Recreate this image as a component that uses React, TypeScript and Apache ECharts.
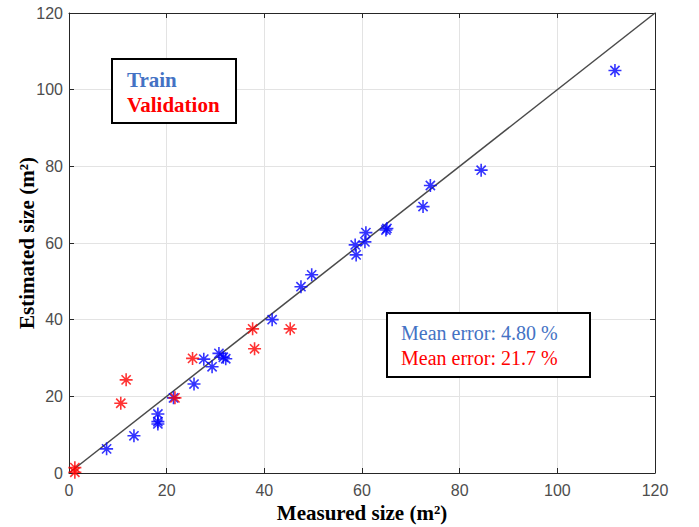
import React, { useEffect, useRef } from "react";
import * as echarts from "echarts";

const trainX = [7.7, 13.3, 18.2, 18.2, 18.2, 21.4, 25.6, 27.6, 29.3, 30.7, 31.6, 32.1, 41.6, 47.5, 49.7, 58.6, 58.8, 60.6, 60.8, 64.9, 65.1, 72.5, 74.0, 84.4, 111.8];
const trainY = [6.3, 9.7, 15.4, 13.4, 12.8, 19.6, 23.2, 29.7, 27.7, 31.2, 30.2, 29.8, 40.0, 48.6, 51.7, 59.5, 56.9, 60.3, 62.7, 63.4, 63.8, 69.5, 75.0, 79.0, 105.0];
const valX = [1.2, 1.2, 10.6, 11.7, 21.7, 25.3, 37.6, 38.0, 45.3];
const valY = [1.4, 0.2, 18.2, 24.3, 19.6, 29.9, 37.6, 32.4, 37.6];
const identityLine = [[0, 0], [120, 120]];
const axisTicks = [0, 20, 40, 60, 80, 100, 120];

const STAR = "path://M6,0L6,12M0,6L12,6M1.76,1.76L10.24,10.24M1.76,10.24L10.24,1.76";

export default function App() {
  const ref = useRef<HTMLDivElement>(null);
  useEffect(() => {
    const chart = echarts.init(ref.current!, null, { renderer: "svg" });
    const axisCommon = {
      type: "value" as const,
      min: axisTicks[0],
      max: axisTicks[axisTicks.length - 1],
      interval: 20,
      axisLine: { show: true, onZero: false, lineStyle: { color: "#262626", width: 1 } },
      axisTick: { show: true, inside: true, length: 5, lineStyle: { color: "#262626" } },
    };
    const tickLabel = { color: "#4d4d4d", fontFamily: "Liberation Sans", fontSize: 16 };
    const serif = "Liberation Serif";
    const nameStyle = { color: "#000", fontFamily: serif, fontWeight: "bold" as const, fontSize: 21, lineHeight: 21 };
    chart.setOption({
      animation: false,
      backgroundColor: "#fff",
      title: [
        {
          text: "Train",
          left: 127,
          top: 69,
          padding: 0,
          textStyle: { color: "#4472c4", fontFamily: serif, fontWeight: "bold", fontSize: 21, lineHeight: 22 },
          z: 12,
        },
        {
          text: "Validation",
          left: 127,
          top: 94,
          padding: 0,
          textStyle: { color: "#ff0000", fontFamily: serif, fontWeight: "bold", fontSize: 21, lineHeight: 22 },
          z: 12,
        },
      ],
      grid: { left: 69, top: 13, width: 586, height: 460, containLabel: false, outerBoundsMode: "none" },
      xAxis: [
        {
          ...axisCommon,
          position: "bottom",
          axisLabel: { ...tickLabel, margin: 9, lineHeight: 16 },
          splitLine: { show: true, lineStyle: { color: "#e3e3e3", width: 1 } },
          name: "Measured size (m²)",
          nameLocation: "middle",
          nameGap: 29,
          nameMoveOverlap: false,
          nameTextStyle: nameStyle,
        },
        {
          ...axisCommon,
          position: "top",
          axisLabel: { show: false },
          splitLine: { show: false },
        },
      ],
      yAxis: [
        {
          ...axisCommon,
          position: "left",
          axisLabel: { ...tickLabel, margin: 6 },
          splitLine: { show: true, lineStyle: { color: "#e3e3e3", width: 1 } },
          name: "Estimated size (m²)",
          nameLocation: "middle",
          nameGap: 32,
          nameMoveOverlap: false,
          nameTextStyle: nameStyle,
        },
        {
          ...axisCommon,
          position: "right",
          axisLabel: { show: false },
          splitLine: { show: false },
        },
      ],
      series: [
        {
          type: "line",
          data: identityLine,
          symbol: "none",
          lineStyle: { color: "#4a4a4a", width: 1.5 },
          z: 1,
        },
        {
          type: "scatter",
          data: trainX.map((x, i) => [x, trainY[i]]),
          symbol: STAR,
          symbolSize: 13,
          itemStyle: { color: "rgba(0,0,0,0)", borderColor: "#0000ff", borderWidth: 1.6 },
          z: 3,
        },
        {
          type: "scatter",
          data: valX.map((x, i) => [x, valY[i]]),
          symbol: STAR,
          symbolSize: 13,
          itemStyle: { color: "rgba(0,0,0,0)", borderColor: "#ff0000", borderWidth: 1.6 },
          z: 3,
        },
      ],
      graphic: [
        {
          type: "rect",
          shape: { x: 112, y: 59, width: 124, height: 64 },
          style: { fill: "#fff", stroke: "#000", lineWidth: 2 },
          z: 10,
        },
        {
          type: "rect",
          shape: { x: 387, y: 313, width: 203, height: 64 },
          style: { fill: "#fff", stroke: "#000", lineWidth: 2 },
          z: 10,
        },
        {
          type: "text",
          x: 401,
          y: 333,
          style: { text: "Mean error: 4.80 %", fill: "#4472c4", fontFamily: serif, fontSize: 20, verticalAlign: "middle" },
          z: 11,
        },
        {
          type: "text",
          x: 401,
          y: 358,
          style: { text: "Mean error: 21.7 %", fill: "#ff0000", fontFamily: serif, fontSize: 20, verticalAlign: "middle" },
          z: 11,
        },
      ],
    });
    return () => chart.dispose();
  }, []);
  return <div ref={ref} style={{ position: "absolute", left: 0, top: 0, width: 699, height: 527 }} />;
}
